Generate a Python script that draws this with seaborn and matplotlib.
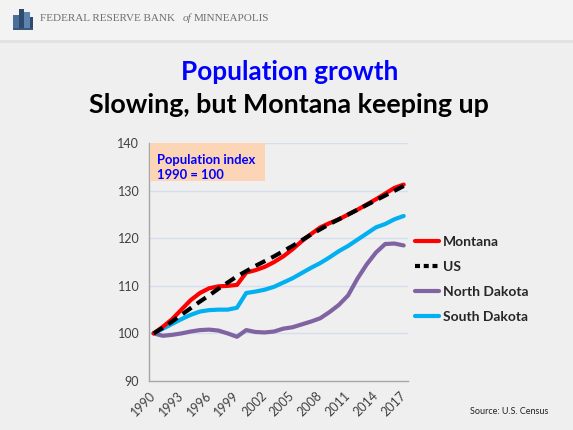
import numpy as np
import pandas as pd
import matplotlib
matplotlib.use("Agg")
import matplotlib.pyplot as plt
from matplotlib.patches import Rectangle
from matplotlib.lines import Line2D
import seaborn as sns

# Population index, 1990 = 100
years = list(range(1990, 2018))
montana = [100.0, 101.4, 103.0, 105.0, 107.0, 108.5, 109.5, 109.9, 110.0, 110.2,
           112.8, 113.3, 114.0, 115.0, 116.2, 117.7, 119.4, 120.9, 122.3, 123.2,
           124.0, 125.0, 126.0, 127.1, 128.2, 129.4, 130.6, 131.3]
us = [100.0, 101.2, 102.5, 103.9, 105.3, 106.7, 108.0, 109.4, 110.7, 112.0,
      113.1, 114.2, 115.2, 116.2, 117.3, 118.4, 119.6, 120.8, 121.9, 123.0,
      124.0, 125.0, 126.0, 127.0, 128.0, 129.0, 130.0, 131.0]
north_dakota = [100.0, 99.5, 99.7, 100.0, 100.4, 100.7, 100.8, 100.6, 100.0, 99.3,
                100.7, 100.3, 100.2, 100.4, 101.0, 101.3, 101.9, 102.5, 103.2, 104.5,
                106.0, 108.0, 111.5, 114.5, 117.0, 118.8, 118.9, 118.5]
south_dakota = [100.0, 101.0, 102.0, 103.0, 103.9, 104.6, 104.9, 105.0, 105.0, 105.4,
                108.5, 108.8, 109.2, 109.8, 110.7, 111.6, 112.7, 113.8, 114.8, 116.0,
                117.3, 118.4, 119.7, 121.0, 122.3, 123.0, 124.0, 124.7]

series_names = ["Montana", "US", "North Dakota", "South Dakota"]
series_values = [montana, us, north_dakota, south_dakota]
series_colors = ["#ff0000", "#000000", "#8064a2", "#00b0f0"]
y_ticks = [90, 100, 110, 120, 130, 140]
x_tick_years = years[::3]

df = pd.DataFrame({"Year": years})
for name, vals in zip(series_names, series_values):
    df[name] = vals

sns.set_theme(style="white")
plt.rcParams["font.family"] = ["Lato", "DejaVu Sans"]

BG = "#efefef"
fig = plt.figure(figsize=(5.73, 4.30), dpi=100, facecolor=BG)

# header band
fig.patches.append(Rectangle((0, 0.905), 1, 0.095, transform=fig.transFigure,
                             facecolor="#f3f3f3", edgecolor="none", zorder=0))
fig.patches.append(Rectangle((0, 0.900), 1, 0.006, transform=fig.transFigure,
                             facecolor="#e2e2e2", edgecolor="none", zorder=0))
# small building logo
for (x0, y0, w, h, c) in [(0.022, 0.935, 0.012, 0.030, "#4a6f9a"),
                          (0.034, 0.935, 0.008, 0.045, "#2f4a6b"),
                          (0.042, 0.935, 0.010, 0.038, "#5b84b1"),
                          (0.052, 0.935, 0.006, 0.025, "#2f4a6b"),
                          (0.022, 0.930, 0.036, 0.006, "#3b5878")]:
    fig.patches.append(Rectangle((x0, y0), w, h, transform=fig.transFigure,
                                 facecolor=c, edgecolor="none", zorder=1))
fig.text(0.070, 0.957, "FEDERAL RESERVE BANK", family="Liberation Serif",
         fontsize=8, color="#6f6f6f", va="center", ha="left")
fig.text(0.318, 0.957, "of", family="Liberation Serif", style="italic",
         fontsize=8, color="#6f6f6f", va="center", ha="left")
fig.text(0.338, 0.957, "MINNEAPOLIS", family="Liberation Serif",
         fontsize=8, color="#6f6f6f", va="center", ha="left")

# titles
fig.text(0.505, 0.832, "Population growth", color="#0000ff", fontsize=18.8,
         fontweight="bold", ha="center", va="center")
fig.text(0.505, 0.755, "Slowing, but Montana keeping up", color="#000000",
         fontsize=19.4, fontweight="bold", ha="center", va="center")

ax = fig.add_axes([0.260, 0.114, 0.4526, 0.553])
ax.set_facecolor(BG)

for name, color in zip(series_names, series_colors):
    if name == "US":
        continue
    sns.lineplot(data=df, x="Year", y=name, color=color, linewidth=3.0, ax=ax,
                 zorder=3 if name == "Montana" else 2, solid_capstyle="round")
sns.lineplot(data=df, x="Year", y="US", color="#000000", linewidth=3.0, ax=ax,
             zorder=4, linestyle=(0, (2.6, 1.6)), dash_capstyle="butt")

ax.set_xlim(1989.5, 2017.5)
ax.set_ylim(90, 140)
ax.set_yticks(y_ticks)
ax.set_yticklabels([str(v) for v in y_ticks], fontsize=9, color="#404040")
ax.set_xticks(x_tick_years)
ax.set_xticklabels([str(v) for v in x_tick_years], fontsize=9, color="#404040",
                   rotation=45, ha="right", va="center", rotation_mode="anchor")
ax.set_xticks(np.arange(1989.5, 2018.0, 1.0), minor=True)
ax.tick_params(axis="x", which="major", length=0, pad=9)
ax.tick_params(axis="x", which="minor", length=4, width=0.8, color="#a6a6a6",
               direction="out")
ax.tick_params(axis="y", which="major", length=4, width=0.8, color="#a6a6a6",
               direction="out", pad=3)
ax.set_xlabel("")
ax.set_ylabel("")
for y in y_ticks[1:]:
    ax.axhline(y, color="#d5deee", linewidth=1.0, zorder=1)
for side in ["top", "right"]:
    ax.spines[side].set_visible(False)
for side in ["left", "bottom"]:
    ax.spines[side].set_color("#a6a6a6")
    ax.spines[side].set_linewidth(1.0)

# index note box
ax.add_patch(Rectangle((0.004, 0.84), 0.444, 0.16, transform=ax.transAxes,
                       facecolor="#fbd5b5", edgecolor="none", zorder=5))
ax.text(0.03, 0.955, "Population index\n1990 = 100", transform=ax.transAxes,
        color="#0000ff", fontsize=9.4, fontweight="bold", va="top", ha="left",
        linespacing=1.3, zorder=6)

# legend
handles = []
for name, color in zip(series_names, series_colors):
    ls = (0, (1.2, 0.9)) if name == "US" else "-"
    handles.append(Line2D([], [], color=color, linewidth=3.0, linestyle=ls))
fig.legend(handles, series_names, loc="upper left",
           bbox_to_anchor=(0.715, 0.465), frameon=False,
           prop={"family": "Lato", "weight": "bold", "size": 10},
           handlelength=1.7, handletextpad=0.3, labelspacing=0.95,
           borderaxespad=0)

fig.text(0.82, 0.042, "Source: U.S. Census", fontsize=6.5, color="#222222",
         ha="left", va="center")

fig.savefig("out.png", dpi=100, facecolor=BG)
